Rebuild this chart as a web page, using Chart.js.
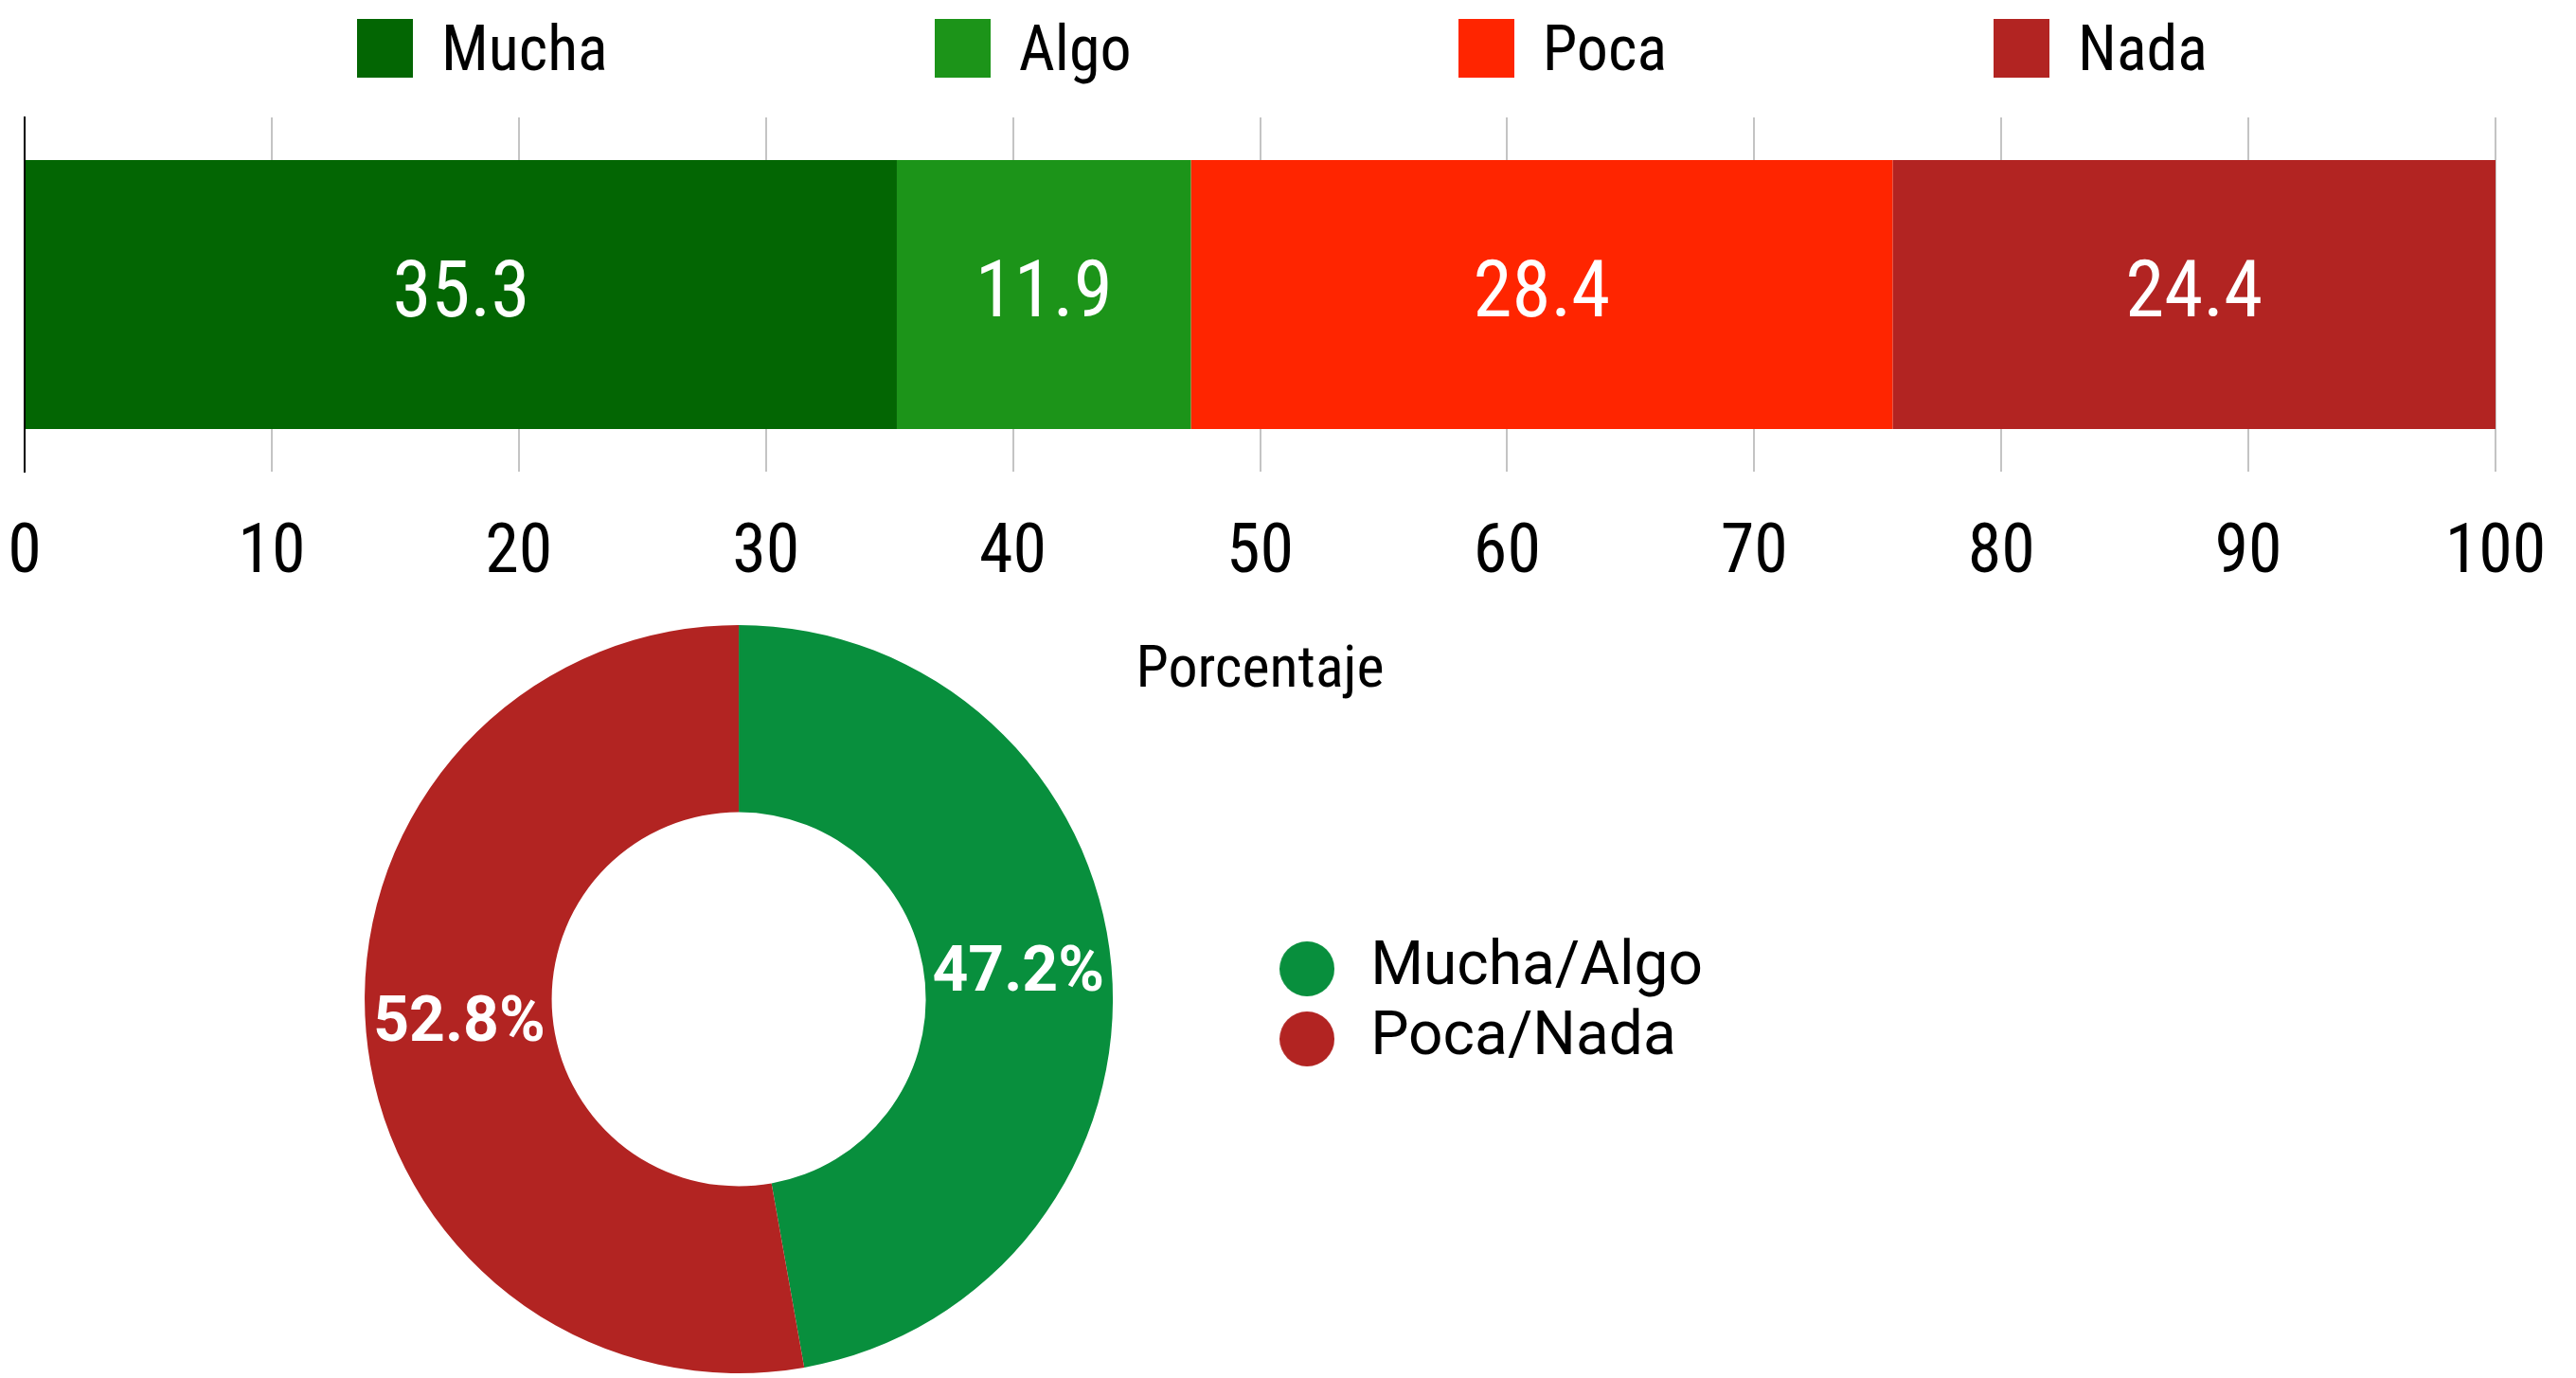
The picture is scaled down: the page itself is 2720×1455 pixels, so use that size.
<!DOCTYPE html>
<html lang="es">
<head>
<meta charset="utf-8">
<title>Porcentaje</title>
<script src="https://cdn.jsdelivr.net/npm/chart.js@4.4.1/dist/chart.umd.min.js"></script>
<style>
    html, body { margin: 0; padding: 0; background: #fff; }
    body { width: 2720px; height: 1455px; position: relative; overflow: hidden; }
    #barWrap { position: absolute; left: 0; top: 0; width: 2720px; height: 747px; }
    #donutWrap { position: absolute; left: 225px; top: 660px; width: 1583px; height: 790px; }
    #barLegend {
        position: absolute; top: 20px; left: 377px;
        display: flex; align-items: center;
        font-family: "Roboto Condensed", "Liberation Sans Narrow", "DejaVu Sans Condensed", Roboto, sans-serif;
        font-size: 66px; line-height: 62px; color: #000;
    }
    #barLegend .item { display: flex; align-items: center; margin-right: 345px; }
    #barLegend .box { width: 59px; height: 62px; margin-right: 30px; }
    #barLegend .txt { position: relative; top: 1px; white-space: nowrap; }
</style>
</head>
<body>
<div id="barLegend"></div>
<div id="barWrap"><canvas id="barChart"></canvas></div>
<div id="donutWrap"><canvas id="donutChart"></canvas></div>

<script>
// ---- Data ----
var categorias = ['Mucha', 'Algo', 'Poca', 'Nada'];
var porcentajes = [35.3, 11.9, 28.4, 24.4];
var coloresBarra = ['#036603', '#1c9419', '#ff2500', '#b22422'];

var grupos = ['Mucha/Algo', 'Poca/Nada'];
var porcentajesGrupo = [47.2, 52.8];
var coloresGrupo = ['#088f3d', '#b22422'];

var ticksX = [0, 10, 20, 30, 40, 50, 60, 70, 80, 90, 100];

var condensed = '"Roboto Condensed", "Liberation Sans Narrow", "DejaVu Sans Condensed", Roboto, sans-serif';
Chart.defaults.font.family = 'Roboto, sans-serif';
Chart.defaults.color = '#000';

// ---- Value labels drawn in the middle of each bar segment / arc ----
var valueLabels = {
    id: 'valueLabels',
    afterDatasetsDraw: function (chart, args, opts) {
        var ctx = chart.ctx;
        ctx.save();
        ctx.fillStyle = opts.color || '#fff';
        ctx.font = opts.font;
        ctx.textAlign = 'center';
        ctx.textBaseline = 'middle';
        chart.data.datasets.forEach(function (ds, di) {
            var meta = chart.getDatasetMeta(di);
            meta.data.forEach(function (el, i) {
                var p = el.getCenterPoint();
                ctx.fillText(opts.format(ds.data[i]), p.x, p.y + (opts.dy || 0));
            });
        });
        ctx.restore();
    }
};

// nudge the legend box down a little after layout
var legendNudge = {
    id: 'legendNudge',
    afterLayout: function (chart, args, opts) {
        if (chart.legend) {
            chart.legend.top += opts.dy;
            chart.legend.bottom += opts.dy;
        }
    }
};

// round legend marker, drawn once per colour
function legendDot(color, size) {
    var c = document.createElement('canvas');
    c.width = size;
    c.height = size;
    var g = c.getContext('2d');
    g.fillStyle = color;
    g.beginPath();
    g.arc(size / 2, size / 2, size / 2, 0, Math.PI * 2);
    g.fill();
    return c;
}

// ---- Stacked horizontal bar ----
var barDatasets = categorias.map(function (cat, i) {
    return {
        label: cat,
        data: [porcentajes[i]],
        backgroundColor: coloresBarra[i],
        borderWidth: 0,
        categoryPercentage: 1,
        barPercentage: 0.759
    };
});

var barChart = new Chart(document.getElementById('barChart'), {
    type: 'bar',
    data: { labels: [''], datasets: barDatasets },
    plugins: [valueLabels],
    options: {
        indexAxis: 'y',
        responsive: true,
        maintainAspectRatio: false,
        animation: false,
        layout: { padding: { top: 124, left: 26, right: 85, bottom: 0 } },
        plugins: {
            legend: { display: false },
            tooltip: { enabled: false },
            valueLabels: {
                color: '#fff',
                font: '83px ' + condensed,
                dy: 2,
                format: function (v) { return v.toFixed(1); }
            }
        },
        scales: {
            x: {
                stacked: true,
                min: 0,
                max: 100,
                afterBuildTicks: function (axis) {
                    axis.ticks = ticksX.map(function (v) { return { value: v }; });
                },
                // tick marks kept invisible, they only push the labels down
                grid: { color: '#c4c4c4', lineWidth: 2, drawTicks: true, tickLength: 45, tickColor: 'rgba(0,0,0,0)' },
                border: { display: false },
                ticks: { padding: 0, color: '#000', font: { family: condensed, size: 72 } },
                title: {
                    display: true,
                    text: 'Porcentaje',
                    color: '#000',
                    font: { family: condensed, size: 62 },
                    padding: { top: 43, bottom: 0 }
                }
            },
            y: {
                stacked: true,
                grid: { display: false, drawTicks: false },
                ticks: { display: false },
                border: { display: true, color: '#000', width: 2 },
                afterFit: function (axis) { axis.width = 0; }
            }
        }
    }
});

// html legend for the bar, built from the datasets
(function buildBarLegend(chart) {
    var holder = document.getElementById('barLegend');
    chart.data.datasets.forEach(function (ds) {
        var item = document.createElement('div');
        item.className = 'item';
        var box = document.createElement('span');
        box.className = 'box';
        box.style.background = ds.backgroundColor;
        var txt = document.createElement('span');
        txt.className = 'txt';
        txt.textContent = ds.label;
        item.appendChild(box);
        item.appendChild(txt);
        holder.appendChild(item);
    });
})(barChart);

// ---- Doughnut ----
new Chart(document.getElementById('donutChart'), {
    type: 'doughnut',
    data: {
        labels: grupos,
        datasets: [{
            data: porcentajesGrupo,
            backgroundColor: coloresGrupo,
            borderWidth: 0
        }]
    },
    plugins: [valueLabels, legendNudge],
    options: {
        responsive: true,
        maintainAspectRatio: false,
        animation: false,
        cutout: '50%',
        layout: { padding: 0 },
        plugins: {
            tooltip: { enabled: false },
            legendNudge: { dy: 5 },
            legend: {
                position: 'right',
                labels: {
                    usePointStyle: true,
                    pointStyleWidth: 70,
                    padding: 10,
                    color: '#000',
                    font: { size: 64 },
                    generateLabels: function (chart) {
                        var items = Chart.overrides.doughnut.plugins.legend.labels.generateLabels(chart);
                        items.forEach(function (it, i) {
                            it.pointStyle = legendDot(coloresGrupo[i], 58);
                        });
                        return items;
                    }
                }
            },
            valueLabels: {
                color: '#fff',
                font: 'bold 66px Roboto, sans-serif',
                dy: 1,
                format: function (v) { return v.toFixed(1) + '%'; }
            }
        }
    }
});
</script>
</body>
</html>
